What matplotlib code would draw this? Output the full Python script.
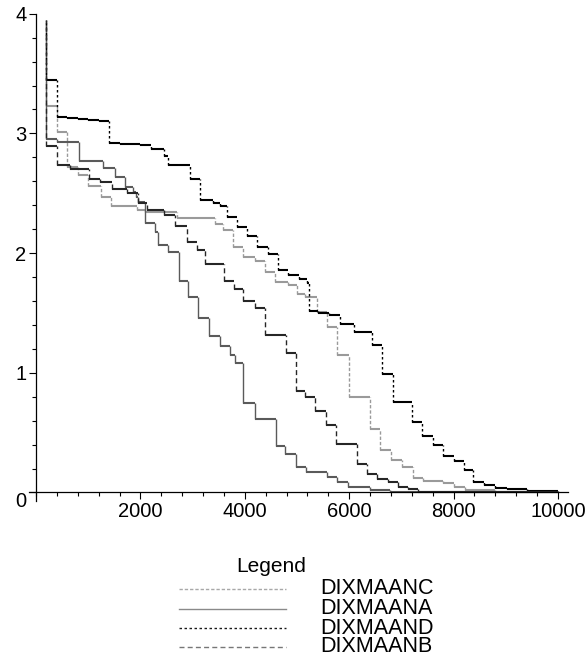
import numpy as np
import matplotlib.pyplot as plt
from matplotlib.ticker import MultipleLocator
from matplotlib.lines import Line2D

plt.rcParams["font.family"] = ["Liberation Sans", "DejaVu Sans"]

# step curves: value holds from x[i] up to x[i+1]
c_x = [200, 200, 400, 600, 800, 1000, 1250, 1430, 1930, 2090, 2700, 3430, 3590, 3780,
       3970, 4200, 4390, 4580, 4830, 5000, 5150, 5380, 5570, 5770, 6000, 6400, 6590,
       6800, 7010, 7220, 7420, 7800, 8000, 8220, 8790, 9400, 10000]
c_y = [3.95, 3.23, 3.01, 2.72, 2.65, 2.56, 2.47, 2.39, 2.36, 2.34, 2.29, 2.24, 2.19, 2.05,
       1.97, 1.93, 1.84, 1.76, 1.73, 1.66, 1.63, 1.51, 1.385, 1.15, 0.80, 0.53, 0.355,
       0.27, 0.215, 0.125, 0.10, 0.077, 0.05, 0.02, 0.005, 0.0, 0.0]

a_x = [200, 200, 400, 830, 1290, 1510, 1700, 1860, 1910, 1960, 2090, 2280, 2330, 2530,
       2730, 2920, 3110, 3320, 3520, 3720, 3810, 3970, 4200, 4590, 4770, 4980, 5170,
       5570, 5760, 5980, 6400, 6780, 7350, 10000]
a_y = [3.95, 2.953, 2.93, 2.77, 2.71, 2.64, 2.555, 2.51, 2.47, 2.43, 2.25, 2.18, 2.07, 2.01,
       1.77, 1.63, 1.46, 1.31, 1.22, 1.15, 1.08, 0.75, 0.614, 0.39, 0.32, 0.215, 0.17,
       0.13, 0.09, 0.05, 0.02, 0.005, 0.0, 0.0]

d_x = [200, 200, 400, 600, 800, 1000, 1200, 1400, 1600, 1800, 2000, 2200, 2450, 2530,
       2950, 3150, 3400, 3520, 3650, 3850, 4040, 4240, 4450, 4630, 4830, 5030, 5190,
       5230, 5400, 5610, 5820, 6090, 6430, 6620, 6830, 7200, 7400, 7600, 7800, 8010,
       8200, 8380, 8590, 8790, 9020, 9400, 10000]
d_y = [3.95, 3.45, 3.14, 3.13, 3.12, 3.11, 3.10, 2.92, 2.915, 2.91, 2.90, 2.87, 2.81, 2.74,
       2.62, 2.44, 2.42, 2.39, 2.30, 2.22, 2.14, 2.05, 1.99, 1.86, 1.82, 1.78, 1.75,
       1.52, 1.50, 1.48, 1.41, 1.34, 1.23, 0.99, 0.76, 0.59, 0.47, 0.40, 0.305, 0.26,
       0.19, 0.09, 0.06, 0.035, 0.025, 0.012, 0.0]

b_x = [200, 200, 400, 650, 1020, 1230, 1450, 1740, 1960, 2120, 2460, 2660, 2890, 3080,
       3240, 3600, 3800, 3970, 4200, 4390, 4790, 4980, 5150, 5350, 5550, 5740, 6150,
       6340, 6540, 6750, 6930, 7130, 7320, 7740, 10000]
b_y = [3.95, 2.895, 2.74, 2.70, 2.615, 2.595, 2.535, 2.50, 2.415, 2.36, 2.32, 2.23, 2.09, 2.03,
       1.91, 1.77, 1.70, 1.60, 1.54, 1.315, 1.163, 0.85, 0.80, 0.68, 0.56, 0.405, 0.24,
       0.152, 0.113, 0.087, 0.042, 0.027, 0.007, 0.0, 0.0]

names = ["DIXMAANC", "DIXMAANA", "DIXMAAND", "DIXMAANB"]
xs = [c_x, a_x, d_x, b_x]
ys = [c_y, a_y, d_y, b_y]
plot_colors = ["#9a9a9a", "#5a5a5a", "#000000", "#262626"]
legend_colors = ["#a8a8a8", "#8a8a8a", "#1a1a1a", "#777777"]
dashes = [(0, (2.4, 1.4)), "solid", (0, (1.8, 1.8)), (0, (3.6, 2.3))]

fig = plt.figure(figsize=(5.86, 6.60), dpi=100)
ax = fig.add_axes([0.0495, 0.2402, 0.9198, 0.739])


def draw_steps(x, y, color, ls):
    x = np.array(x)
    y = np.array(y)
    # Maple look: flat parts come out solid, the drops carry the dash pattern
    ax.hlines(y[:-1], x[:-1], x[1:], colors=color, lw=1.5)
    ax.vlines(x[1:], y[1:], y[:-1], colors=color, lw=1.0, linestyles=[ls])


for x, y, col, ls in zip(xs, ys, plot_colors, dashes):
    draw_steps(x, y, col, ls)

ax.set_xlim(-134, 10192)
ax.set_ylim(-0.075, 4.0)
ax.spines["left"].set_position(("data", 0))
ax.spines["bottom"].set_position(("data", 0))
ax.spines["top"].set_visible(False)
ax.spines["right"].set_visible(False)
for s in ["left", "bottom"]:
    ax.spines[s].set_linewidth(0.9)

ax.set_xticks([2000, 4000, 6000, 8000, 10000])
ax.set_xticklabels(["2000", "4000", "6000", "8000", "10000"])
ax.xaxis.set_minor_locator(MultipleLocator(400))
ax.set_yticks([0, 1, 2, 3, 4])
ax.set_yticklabels(["0", "1", "2", "3", "4"])
ax.yaxis.set_minor_locator(MultipleLocator(0.2))
ax.tick_params(which="major", direction="out", length=5, width=0.8, labelsize=14.5, pad=2)
ax.tick_params(which="minor", direction="out", length=3, width=0.8)
ax.get_yticklabels()[0].set_va("top")

# legend block under the plot
W, H = 586.0, 660.0
fig.text(271 / W, 1 - 566 / H, "Legend", ha="center", va="center", fontsize=15)
rows = [589, 609, 628, 647]
for name, col, ls, r in zip(names, legend_colors, dashes, rows):
    fig.add_artist(Line2D([179 / W, 286 / W], [1 - r / H, 1 - r / H],
                          transform=fig.transFigure, color=col, lw=1.0, linestyle=ls))
    fig.text(320 / W, 1 - r / H, name, ha="left", va="center", fontsize=15.5)

fig.savefig("out.png", dpi=100)
